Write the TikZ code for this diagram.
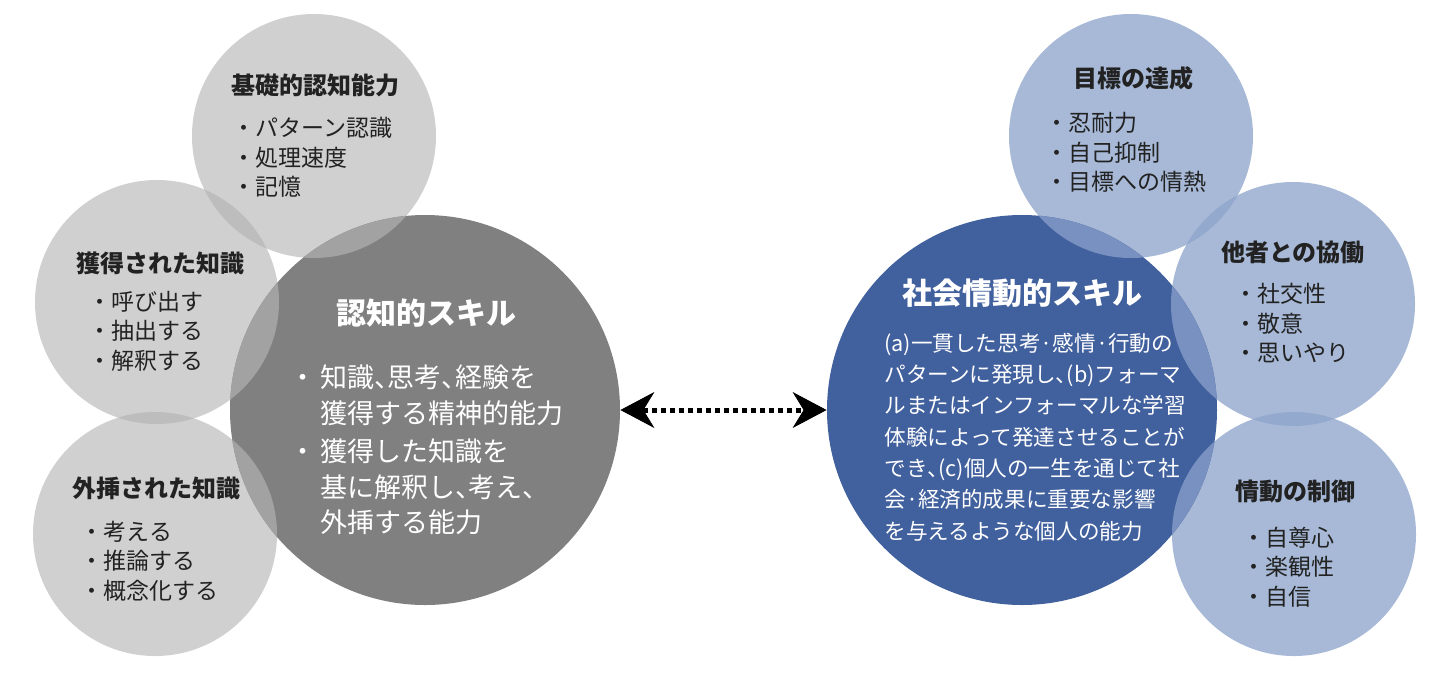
\documentclass[tikz,border=0pt]{standalone}
\usepackage{fontspec}
\setmainfont{Noto Sans CJK JP}
\newfontfamily\jpp[RawFeature=+palt]{Noto Sans CJK JP}
\usetikzlibrary{arrows.meta}
\definecolor{gsmall}{HTML}{D0D0D0}
\definecolor{gsmallov}{HTML}{BDBDBD}
\definecolor{gbig}{HTML}{808080}
\definecolor{gbigov}{HTML}{A2A2A2}
\definecolor{bsmall}{HTML}{A7B9D7}
\definecolor{bsmallov}{HTML}{94A9CE}
\definecolor{bbig}{HTML}{41609E}
\definecolor{bbigov}{HTML}{7891C0}
\definecolor{txtdark}{HTML}{222222}
\newcommand\jcomma{{\jpp 、}}
\tikzset{
  smallgray/.style={circle, fill=gsmall, minimum size=122pt, inner sep=0pt},
  biggray/.style={circle, fill=gbig, minimum size=195pt, inner sep=0pt},
  smallblue/.style={circle, fill=bsmall, minimum size=122pt, inner sep=0pt},
  bigblue/.style={circle, fill=bbig, minimum size=195pt, inner sep=0pt},
  smalltitle/.style={font=\fontsize{12}{14}\selectfont\bfseries, text=txtdark, inner sep=0pt},
  smallitems/.style={font=\fontsize{11.5}{14.75}\selectfont, text=txtdark, align=left, anchor=west, inner sep=0pt},
  bigtitle/.style={font=\fontsize{15}{18}\selectfont\bfseries, text=white, inner sep=0pt},
  graybody/.style={font=\fontsize{13.5}{17.75}\selectfont, text=white, align=left, anchor=west, inner sep=0pt},
  bluebody/.style={font=\fontsize{10.8}{15.65}\selectfont, text=white, align=left, anchor=west, inner sep=0pt},
  tipstyle/.style={},
  link/.style={line width=2.5pt, dash pattern=on 2.5pt off 2pt,
    {Stealth[length=17pt 0 0, width=18pt 0 0, inset=5.5pt 0 0, line width=0.4pt]}-{Stealth[length=17pt 0 0, width=18pt 0 0, inset=5.5pt 0 0, line width=0.4pt]}}
}
\begin{document}
\begin{tikzpicture}[x=0.5pt,y=-0.5pt]
\path[use as bounding box, fill=white] (0,0) rectangle (1440,682);
% small circles
\node[smallgray] (A) at (314,136) {};
\node[smallgray] (B) at (157,302) {};
\node[smallgray] (C) at (155,534) {};
\node[smallblue] (D) at (1131,136) {};
\node[smallblue] (E) at (1293,304) {};
\node[smallblue] (F) at (1294,534) {};
% small-small overlaps
\begin{scope}\clip (A.center) circle[radius=61pt]; \fill[gsmallov] (B.center) circle[radius=61pt];\end{scope}
\begin{scope}\clip (B.center) circle[radius=61pt]; \fill[gsmallov] (C.center) circle[radius=61pt];\end{scope}
\begin{scope}\clip (D.center) circle[radius=61pt]; \fill[bsmallov] (E.center) circle[radius=61pt];\end{scope}
\begin{scope}\clip (E.center) circle[radius=61pt]; \fill[bsmallov] (F.center) circle[radius=61pt];\end{scope}
% big circles
\node[biggray] (G) at (425,410) {};
\node[bigblue] (H) at (1022,410) {};
% big-small overlaps
\begin{scope}\clip (G.center) circle[radius=97.5pt];
  \fill[gbigov] (A.center) circle[radius=61pt];
  \fill[gbigov] (B.center) circle[radius=61pt];
  \fill[gbigov] (C.center) circle[radius=61pt];
\end{scope}
\begin{scope}\clip (H.center) circle[radius=97.5pt];
  \fill[bbigov] (D.center) circle[radius=61pt];
  \fill[bbigov] (E.center) circle[radius=61pt];
  \fill[bbigov] (F.center) circle[radius=61pt];
\end{scope}
% connector
\draw[link] (G.east) -- (H.west);
% texts left
\node[smalltitle] (At) at (315,85) {基礎的認知能力};
\node[smallitems] (Ai) at (232.5,157.5) {・パターン認識\\・処理速度\\・記憶};
\node[smalltitle] (Bt) at (160,263) {獲得された知識};
\node[smallitems] (Bi) at (88.5,331) {・呼び出す\\・抽出する\\・解釈する};
\node[smalltitle] (Ct) at (156,488) {外挿された知識};
\node[smallitems] (Ci) at (80.5,561) {・考える\\・推論する\\・概念化する};
\node[bigtitle] (Gt) at (426,313) {認知的スキル};
\node[graybody] (Gi1) at (320,395.5) {\llap{・\hspace{2pt}}知識\jcomma 思考\jcomma 経験を\\獲得する精神的能力};
\node[graybody] (Gi2) at (320,487) {\llap{・\hspace{2pt}}獲得した知識を\\基に解釈し\jcomma 考え\jcomma\\外挿する能力};
% texts right
\node[smalltitle] (Dt) at (1133,78) {目標の達成};
\node[smallitems] (Di) at (1045.5,152.5) {・忍耐力\\・自己抑制\\・目標への情熱};
\node[smalltitle] (Et) at (1293,252) {他者との協働};
\node[smallitems] (Ei) at (1234.5,323) {・社交性\\・敬意\\・思いやり};
\node[smalltitle] (Ft) at (1295,491) {情動の制御};
\node[smallitems] (Fi) at (1242.5,567) {・自尊心\\・楽観性\\・自信};
\node[bigtitle] (Ht) at (1022,293) {社会情動的スキル};
\node[bluebody] (Hi) at (884,437) {(a)一貫した思考·感情·行動の\\パターンに発現し\jcomma(b)フォーマ\\ルまたはインフォーマルな学習\\体験によって発達させることが\\でき\jcomma(c)個人の一生を通じて社\\会·経済的成果に重要な影響\\を与えるような個人の能力};
\end{tikzpicture}
\end{document}
